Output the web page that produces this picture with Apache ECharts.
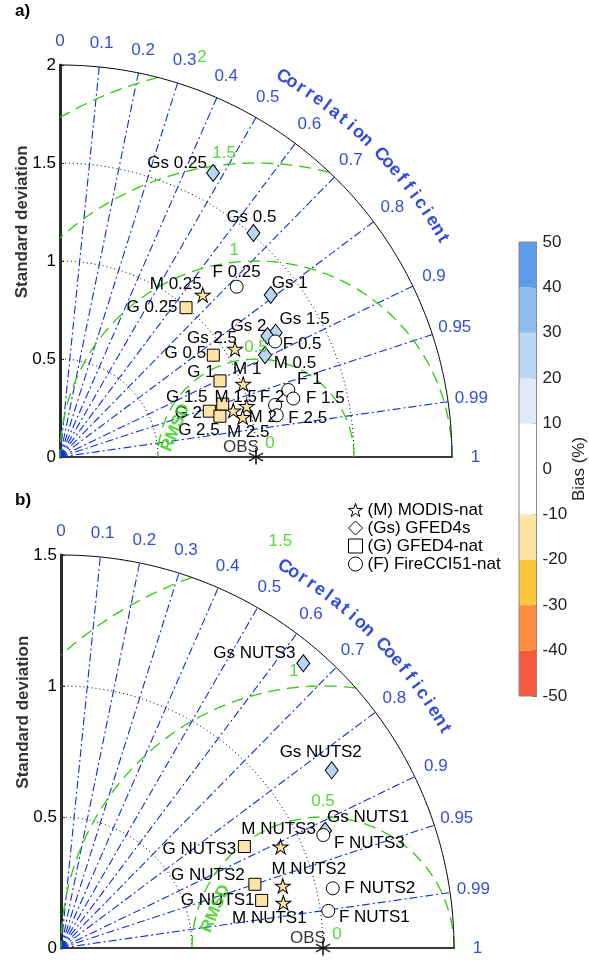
<!DOCTYPE html>
<html><head><meta charset="utf-8">
<script src="https://cdn.jsdelivr.net/npm/echarts@6/dist/echarts.min.js"></script>
<style>html,body{margin:0;padding:0;background:#fff}#c{width:589px;height:960px}</style>
</head><body><div id="c"></div>
<script>
// ---------------- DATA ----------------
const obsStd = 1;
// Panel a) spatial resolutions (degrees)
const resA = ['0.25', '0.5', '1', '1.5', '2', '2.5'];
const stdA_M  = [1.102, 1.049, 1.006, 0.987, 0.954, 0.915];
const corA_M  = [0.661, 0.851, 0.929, 0.965, 0.977, 0.966];
const stdA_Gs = [1.646, 1.510, 1.356, 1.270, 1.225, 1.168];
const corA_Gs = [0.4745, 0.6536, 0.7927, 0.8663, 0.8638, 0.8955];
const stdA_G  = [0.997, 0.939, 0.904, 0.873, 0.797, 0.842];
const corA_G  = [0.645, 0.833, 0.903, 0.951, 0.956, 0.969];
const stdA_F  = [1.252, 1.246, 1.214, 1.227, 1.129, 1.126];
const corA_F  = [0.720, 0.881, 0.9595, 0.970, 0.972, 0.982];
// Panel b) NUTS levels
const resB = ['NUTS1', 'NUTS2', 'NUTS3'];
const stdB_M  = [0.866, 0.879, 0.923];
const corB_M  = [0.980, 0.963, 0.908];
const stdB_Gs = [1.103, 1.236, 1.427];
const corB_Gs = [0.914, 0.836, 0.648];
const stdB_G  = [0.787, 0.779, 0.800];
const corB_G  = [0.973, 0.950, 0.875];
const stdB_F  = [1.030, 1.062, 1.090];
const corB_F  = [0.9905, 0.9767, 0.9185];
// Bias (%) per point (colour of markers)
const biasA_M  = [-15, -15, -15, -15, -15, -15];
const biasA_Gs = [25, 25, 25, 25, 25, 25];
const biasA_G  = [-15, -15, -15, -15, -15, -15];
const biasA_F  = [2, 2, 2, 2, 2, 2];
const biasB_M  = [-15, -15, -15];
const biasB_Gs = [25, 25, 25];
const biasB_G  = [-15, -15, -15];
const biasB_F  = [2, 2, 2];
// Axes / ticks
const stdTicksA = [0, 0.5, 1, 1.5, 2];
const stdTicksB = [0, 0.5, 1, 1.5];
const corrTicks = [0, 0.1, 0.2, 0.3, 0.4, 0.5, 0.6, 0.7, 0.8, 0.9, 0.95, 0.99, 1];
const corrLines = [0.1, 0.2, 0.3, 0.4, 0.5, 0.6, 0.7, 0.8, 0.9, 0.95, 0.99];
const rmsA = [0.5, 1, 1.5, 2];
const rmsB = [0.5, 1, 1.5];
const rmsLabelAng = {0.5: 90, 1: 96, 1.5: 96, 2: 97.7};
const stdArcsA = [0.5, 1, 1.5];
const stdArcsB = [0.5, 1];
// Colorbar
const biasEdges  = [-50, -40, -30, -20, -10, 0, 10, 20, 30, 40, 50];
const biasColors = ['#f5583d', '#fd8d3b', '#fec63c', '#fee4a5', '#ffffff', '#ffffff', '#deebf6', '#b9d7f3', '#8dbdee', '#5b9de9'];
const groupNames = ['(M) MODIS-nat', '(Gs) GFED4s', '(G) GFED4-nat', '(F) FireCCI51-nat'];
const groupPrefix = ['M', 'Gs', 'G', 'F'];

// ---------------- LAYOUT (label offsets in px) ----------------
const offA = {
  M:  [[-27,-11],[60,14],[4,-15],[-11,-9],[20,0],[15,22]],
  Gs: [[-36,-10],[-2,-16],[19,-12],[29,-13],[-19,-10],[-53,-17]],
  G:  [[-34,0],[-28,-2],[-19,-9],[-36,-7],[-21,2],[-21,14]],
  F:  [[0,-14],[27,3],[21,-11],[32,0],[-3,-8],[31,3]]
};
const offB = {
  M:  [[-14,15],[26,-17],[-2,-17]],
  Gs: [[43,-13],[-11,-18],[-49,-10]],
  G:  [[-44,0],[-47,-9],[-45,3]],
  F:  [[46,6],[47,0],[46,8]]
};

const FONT = '"Liberation Sans", Arial, Helvetica, sans-serif';
const BLUE = '#0020c8';
const BLUE_LINE = '#0a2ee0';
const GREEN = '#2fcc0c';
const STAR = 'path://M50,0 L61.17,34.63 L97.55,34.55 L68.07,55.87 L79.39,90.45 L50,69 L20.61,90.45 L31.93,55.87 L2.45,34.55 L38.83,34.63 Z';
const ASTER = 'path://M8.9,0 L11.1,0 L11.1,20 L8.9,20 Z M18.0,16.1 L19.1,14.2 L2.0,3.9 L0.9,5.8 Z M18.0,3.9 L19.1,5.8 L2.0,16.1 L0.9,14.2 Z';
const SYMBOLS = [STAR, 'diamond', 'rect', 'circle'];
const SIZES = [[15,14.3], [13,17], [12,12], [13,13]];

function P(s, c) { return [s * c, s * Math.sqrt(Math.max(0, 1 - c * c))]; }
function arcPts(cx, cy, r, a0, a1, n) {
  const out = [];
  for (let i = 0; i <= n; i++) {
    const a = (a0 + (a1 - a0) * i / n) * Math.PI / 180;
    out.push([cx + r * Math.cos(a), cy + r * Math.sin(a)]);
  }
  return out;
}
function biasColor(b) {
  for (let i = 0; i < biasColors.length; i++) if (b >= biasEdges[i] && b < biasEdges[i + 1]) return biasColors[i];
  return biasColors[biasColors.length - 1];
}
function textSeries(g, items, style, z) {
  return {
    type: 'scatter', xAxisIndex: g, yAxisIndex: g, clip: false, silent: true,
    symbol: 'circle', symbolSize: 1, itemStyle: { color: 'rgba(0,0,0,0)' }, z: z || 6,
    data: items.map(it => ({ value: it.value, label: { formatter: it.text, rotate: it.rotate || 0, offset: it.offset || [0, 0] } })),
    label: Object.assign({ show: true, position: 'inside', align: 'center', verticalAlign: 'middle', fontFamily: FONT, fontSize: 17, color: '#000' }, style)
  };
}
function lineSeries(g, pts, ls, z) {
  return { type: 'line', xAxisIndex: g, yAxisIndex: g, data: pts, showSymbol: false, symbol: 'none', clip: false, silent: true, z: z || 2, lineStyle: ls, animation: false };
}

function panel(g, maxStd, stdArcs, rmsList, groups, res, offs) {
  const S = [];
  stdArcs.forEach(r => S.push(lineSeries(g, arcPts(0, 0, r, 0, 90, 120), { color: '#000', width: 1, type: [1, 3] }, 1)));
  corrLines.forEach(c => S.push(lineSeries(g, [[0, 0], P(maxStd, c)], { color: BLUE_LINE, width: 1.1, type: [8, 3, 2, 3] }, 1)));
  rmsList.forEach(r => {
    let a0 = 0, a1 = 180;
    if (obsStd + r > maxStd) {
      const x = (maxStd * maxStd - r * r + obsStd * obsStd) / (2 * obsStd);
      const y = Math.sqrt(maxStd * maxStd - x * x);
      a0 = Math.atan2(y, x - obsStd) * 180 / Math.PI;
    }
    if (r > obsStd) a1 = Math.acos(-obsStd / r) * 180 / Math.PI;
    S.push(lineSeries(g, arcPts(obsStd, 0, r, a0, a1, 160), { color: GREEN, width: 1.3, type: [12, 7] }, 1));
  });
  S.push(lineSeries(g, arcPts(0, 0, maxStd, 0, 90, 200), { color: '#000', width: 1, type: 'solid' }, 2));
  S.push(textSeries(g, corrTicks.map(c => ({ value: P(maxStd * 1.06, c), text: String(c) })), { color: BLUE }));
  const title = 'Correlation Coefficient';
  const items = [];
  const th0 = 59.6, th1 = 29.7;
  for (let i = 0; i < title.length; i++) {
    if (title[i] === ' ') continue;
    const th = th0 + (th1 - th0) * i / (title.length - 1);
    const rc = maxStd * 1.125;
    items.push({ value: [rc * Math.cos(th * Math.PI / 180), rc * Math.sin(th * Math.PI / 180)], text: title[i], rotate: th - 90 });
  }
  S.push(textSeries(g, items, { color: BLUE, fontWeight: 'bold', fontSize: 18 }));
  S.push(textSeries(g, rmsList.map(r => {
    const a = rmsLabelAng[r] * Math.PI / 180;
    return { value: [obsStd + (r + 0.06) * Math.cos(a), (r + 0.06) * Math.sin(a)], text: String(r) };
  }), { color: GREEN }));
  S.push(textSeries(g, [{ value: [0.59, 0.15], text: 'RMSD', rotate: 67 }], { color: GREEN, fontWeight: 'bold' }));
  S.push(textSeries(g, [{ value: [obsStd, 0], text: '0', offset: [14, -14] }], { color: GREEN }));
  S.push(textSeries(g, [{ value: [-0.095 * maxStd, 0.6 * maxStd], text: 'Standard deviation', rotate: 90 }], { fontWeight: 'bold' }));
  groups.forEach((grp, k) => {
    const pref = groupPrefix[k];
    S.push({
      type: 'scatter', name: groupNames[k], xAxisIndex: g, yAxisIndex: g, clip: false, z: 5,
      symbol: SYMBOLS[k], symbolSize: SIZES[k],
      itemStyle: { borderColor: '#000', borderWidth: 1, opacity: 1 },
      label: { show: true, position: 'inside', align: 'center', verticalAlign: 'middle', fontFamily: FONT, fontSize: 17, color: '#000' },
      data: grp.std.map((s, i) => ({
        value: P(s, grp.cor[i]), name: pref + ' ' + res[i],
        itemStyle: { color: biasColor(grp.bias[i]) },
        label: { formatter: pref + ' ' + res[i], offset: offs[pref][i] }
      }))
    });
  });
  S.push({
    type: 'scatter', xAxisIndex: g, yAxisIndex: g, clip: false, z: 6, silent: true,
    symbol: ASTER, symbolSize: 15, itemStyle: { color: '#000' },
    label: { show: true, formatter: 'OBS', position: 'inside', offset: [-15, -10], fontFamily: FONT, fontSize: 17, color: '#000' },
    data: [[obsStd, 0]]
  });
  return S;
}

function mkX(g, m) {
  return { gridIndex: g, type: 'value', min: 0, max: m, axisLine: { show: true, onZero: false, lineStyle: { color: '#3a3a3a', width: 2 } },
    axisTick: { show: false }, axisLabel: { show: false }, splitLine: { show: false } };
}
function mkY(g, m, ticks) {
  return { gridIndex: g, type: 'value', min: 0, max: m, interval: 0.5,
    axisLine: { show: true, onZero: false, lineStyle: { color: '#2a2a2a', width: 3 } },
    axisTick: { show: true, inside: true, length: 4, lineStyle: { color: '#333' } },
    axisLabel: { fontSize: 17, color: '#000', margin: 4, fontFamily: FONT, formatter: v => ticks.indexOf(v) >= 0 ? String(v) : '' },
    splitLine: { show: false } };
}

const groupsA = [
  { std: stdA_M, cor: corA_M, bias: biasA_M },
  { std: stdA_Gs, cor: corA_Gs, bias: biasA_Gs },
  { std: stdA_G, cor: corA_G, bias: biasA_G },
  { std: stdA_F, cor: corA_F, bias: biasA_F }
];
const groupsB = [
  { std: stdB_M, cor: corB_M, bias: biasB_M },
  { std: stdB_Gs, cor: corB_Gs, bias: biasB_Gs },
  { std: stdB_G, cor: corB_G, bias: biasB_G },
  { std: stdB_F, cor: corB_F, bias: biasB_F }
];

const cbSeries = [];
const bandIdx = biasColors.map((c, i) => i);
bandIdx.sort((a, b) => Math.abs((biasEdges[a] + biasEdges[a + 1]) / 2) - Math.abs((biasEdges[b] + biasEdges[b + 1]) / 2));
bandIdx.forEach(i => {
  const lo = biasEdges[i], hi = biasEdges[i + 1];
  const v = lo >= 0 ? hi - lo : -(hi - lo);
  cbSeries.push({ type: 'bar', xAxisIndex: 2, yAxisIndex: 2, stack: 'cb', barWidth: '100%', silent: true,
    data: [v], itemStyle: { color: biasColors[i] }, z: 2 });
});

const option = {
  animation: false,
  backgroundColor: '#fff',
  textStyle: { fontFamily: FONT },
  grid: [
    { left: 60, top: 65, width: 392, height: 392 },
    { left: 61, top: 555, width: 393, height: 393 },
    { left: 519, top: 242, width: 27, height: 454, show: true, borderColor: '#8a8a8a', borderWidth: 1, backgroundColor: 'rgba(0,0,0,0)', z: 10 }
  ],
  xAxis: [mkX(0, 2), mkX(1, 1.5), { gridIndex: 2, type: 'category', data: ['bias'], show: false }],
  yAxis: [mkY(0, 2, stdTicksA), mkY(1, 1.5, stdTicksB), {
    gridIndex: 2, type: 'value', min: -50, max: 50, interval: 10, position: 'right',
    axisLine: { show: true, lineStyle: { color: '#8a8a8a', width: 1 } },
    axisTick: { show: true, inside: true, length: 4, lineStyle: { color: '#555' } },
    axisLabel: { fontSize: 17, color: '#222', margin: 6, fontFamily: FONT },
    splitLine: { show: false },
    name: 'Bias (%)', nameLocation: 'middle', nameRotate: 90, nameGap: 30,
    nameTextStyle: { fontSize: 17, color: '#222', fontFamily: FONT }
  }],
  legend: {
    orient: 'vertical', left: 343, top: 496, itemWidth: 14, itemHeight: 14, itemGap: 0, selectedMode: false,
    textStyle: { fontSize: 17, color: '#000', fontFamily: FONT, lineHeight: 18 },
    itemStyle: { color: '#fff', borderColor: '#000', borderWidth: 1 },
    data: groupNames
  },
  graphic: [
    { type: 'text', left: 15, top: 3, style: { text: 'a)', font: 'bold 17px "Liberation Sans", Arial', fill: '#000' } },
    { type: 'text', left: 15, top: 492, style: { text: 'b)', font: 'bold 17px "Liberation Sans", Arial', fill: '#000' } }
  ],
  series: [].concat(
    panel(0, 2, stdArcsA, rmsA, groupsA, resA, offA),
    panel(1, 1.5, stdArcsB, rmsB, groupsB, resB, offB),
    cbSeries
  )
};
const chart = echarts.init(document.getElementById('c'));
chart.setOption(option);
</script></body></html>
